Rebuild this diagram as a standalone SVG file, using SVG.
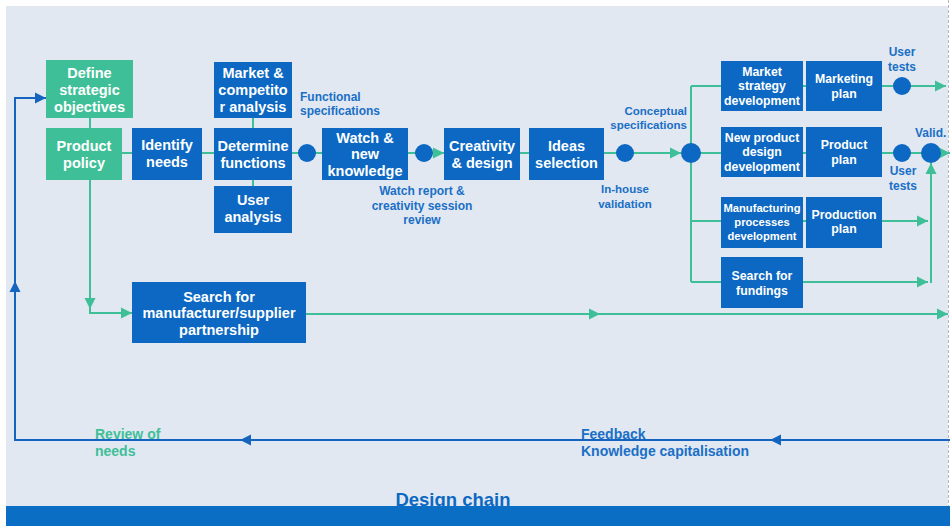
<svg xmlns="http://www.w3.org/2000/svg" width="950" height="526" viewBox="0 0 950 526">
<style>
.bx{fill:#0c68c2}
.tl{fill:#3fbf98}
.t{font-family:"Liberation Sans",Arial,sans-serif;font-weight:bold;fill:#fff;text-anchor:middle}
.m{font-size:14.5px}
.s{font-size:12.3px}
.xs{font-size:11.2px}
.lb{font-family:"Liberation Sans",Arial,sans-serif;font-weight:bold;fill:#1a6fc6;font-size:11.5px}
.l2{font-size:12px}
.fb{font-size:14px}
.dc{font-size:18.5px;fill:#0c68c2}
.gr{fill:#3fbf98}
.c{stroke:#3fbf98;stroke-width:2;fill:none}
.cb{stroke:#1565c0;stroke-width:2;fill:none}
.dot{fill:#0c68c2}
</style>
<defs>
<marker id="ta" viewBox="0 0 10 10" refX="10" refY="5" markerWidth="11" markerHeight="12" markerUnits="userSpaceOnUse" orient="auto"><path d="M0,0 L10,5 L0,10z" fill="#3fbf98"/></marker>
<marker id="ba" viewBox="0 0 10 10" refX="10" refY="5" markerWidth="11" markerHeight="12" markerUnits="userSpaceOnUse" orient="auto"><path d="M0,0 L10,5 L0,10z" fill="#1565c0"/></marker>
</defs>
<rect x="0" y="0" width="950" height="526" fill="#ffffff"/>
<rect x="6" y="6" width="942" height="520" fill="#e1e8f1"/>
<line x1="948.5" y1="0" x2="948.5" y2="506" stroke="#b5b9bf" stroke-width="1" stroke-dasharray="3,2"/>

<g id="connectors">
<line class="c" x1="90" y1="118" x2="90" y2="128"/>
<line class="c" x1="122" y1="153" x2="132" y2="153"/>
<line class="c" x1="202" y1="153" x2="214" y2="153"/>
<line class="c" x1="253" y1="118" x2="253" y2="128"/>
<line class="c" x1="253" y1="180" x2="253" y2="186"/>
<line class="c" x1="292" y1="153" x2="322" y2="153"/>
<line class="c" x1="408" y1="153" x2="444" y2="153" marker-end="url(#ta)"/>
<line class="c" x1="520" y1="153" x2="529" y2="153"/>
<line class="c" x1="604" y1="153" x2="681" y2="153" marker-end="url(#ta)"/>
<line class="c" x1="691" y1="86" x2="691" y2="282"/>
<line class="c" x1="691" y1="86" x2="721" y2="86"/>
<line class="c" x1="691" y1="153" x2="721" y2="153"/>
<line class="c" x1="691" y1="221" x2="721" y2="221"/>
<line class="c" x1="691" y1="282" x2="721" y2="282"/>
<line class="c" x1="803" y1="86" x2="806" y2="86"/>
<line class="c" x1="803" y1="153" x2="806" y2="153"/>
<line class="c" x1="803" y1="221" x2="806" y2="221"/>
<line class="c" x1="882" y1="86" x2="946" y2="86" marker-end="url(#ta)"/>
<line class="c" x1="882" y1="153" x2="950" y2="153" marker-end="url(#ta)"/>
<line class="c" x1="882" y1="221" x2="928" y2="221" marker-end="url(#ta)"/>
<line class="c" x1="803" y1="282" x2="928" y2="282" marker-end="url(#ta)"/>
<line class="c" x1="931" y1="283" x2="931" y2="163" marker-end="url(#ta)"/>
<polyline class="c" points="90,180 90,313 132,313" marker-end="url(#ta)"/>
<path d="M84.5,298 L95.5,298 L90,309z" fill="#3fbf98"/>
<line class="c" x1="306" y1="314" x2="600" y2="314" marker-end="url(#ta)"/>
<line class="c" x1="596" y1="314" x2="948" y2="314" marker-end="url(#ta)"/>
<line class="cb" x1="950" y1="440" x2="770" y2="440" marker-end="url(#ba)"/>
<line class="cb" x1="772" y1="440" x2="240" y2="440" marker-end="url(#ba)"/>
<polyline class="cb" points="242,440 15,440 15,281" marker-end="url(#ba)"/>
<polyline class="cb" points="15,283 15,98 46,98" marker-end="url(#ba)"/>
</g>

<g id="dots">
<circle class="dot" cx="307" cy="153" r="9"/>
<circle class="dot" cx="424" cy="153" r="9"/>
<circle class="dot" cx="625" cy="153" r="9"/>
<circle class="dot" cx="691" cy="153" r="10"/>
<circle class="dot" cx="902" cy="86" r="9"/>
<circle class="dot" cx="902" cy="153" r="9"/>
<circle class="dot" cx="931" cy="153" r="10"/>
</g>

<g id="n-define"><rect class="tl" x="46" y="60" width="87" height="58"/>
<text class="t m" x="89.5" y="78">Define</text><text class="t m" x="89.5" y="95">strategic</text><text class="t m" x="89.5" y="112">objectives</text></g>
<g id="n-policy"><rect class="tl" x="46" y="128" width="76" height="52"/>
<text class="t m" x="84" y="151">Product</text><text class="t m" x="84" y="168">policy</text></g>
<g id="n-identify"><rect class="bx" x="132" y="128" width="70" height="52"/>
<text class="t m" x="167" y="150">Identify</text><text class="t m" x="167" y="167">needs</text></g>
<g id="n-market"><rect class="bx" x="214" y="62" width="78" height="56"/>
<text class="t m" x="253" y="78">Market &amp;</text><text class="t m" x="253" y="95">competito</text><text class="t m" x="253" y="112">r analysis</text></g>
<g id="n-determine"><rect class="bx" x="214" y="128" width="78" height="52"/>
<text class="t m" x="253" y="151">Determine</text><text class="t m" x="253" y="168">functions</text></g>
<g id="n-user"><rect class="bx" x="214" y="186" width="78" height="47"/>
<text class="t m" x="253" y="205">User</text><text class="t m" x="253" y="222">analysis</text></g>
<g id="n-watch"><rect class="bx" x="322" y="128" width="86" height="52"/>
<text class="t m" x="365" y="143">Watch &amp;</text><text class="t m" x="365" y="159">new</text><text class="t m" x="365" y="176">knowledge</text></g>
<g id="n-creativity"><rect class="bx" x="444" y="128" width="76" height="52"/>
<text class="t m" x="482" y="151">Creativity</text><text class="t m" x="482" y="168">&amp; design</text></g>
<g id="n-ideas"><rect class="bx" x="529" y="128" width="75" height="52"/>
<text class="t m" x="566.5" y="151">Ideas</text><text class="t m" x="566.5" y="168">selection</text></g>
<g id="n-mktstrat"><rect class="bx" x="721" y="61" width="82" height="50"/>
<text class="t s" x="762" y="76">Market</text><text class="t s" x="762" y="90">strategy</text><text class="t s" x="762" y="105">development</text></g>
<g id="n-mktplan"><rect class="bx" x="806" y="61" width="76" height="50"/>
<text class="t s" x="844" y="83">Marketing</text><text class="t s" x="844" y="98">plan</text></g>
<g id="n-npd"><rect class="bx" x="721" y="127" width="82" height="50"/>
<text class="t s" x="762" y="142">New product</text><text class="t s" x="762" y="156">design</text><text class="t s" x="762" y="171">development</text></g>
<g id="n-prodplan"><rect class="bx" x="806" y="127" width="76" height="50"/>
<text class="t s" x="844" y="149">Product</text><text class="t s" x="844" y="164">plan</text></g>
<g id="n-mfg"><rect class="bx" x="721" y="197" width="82" height="51"/>
<text class="t xs" x="762" y="212">Manufacturing</text><text class="t xs" x="762" y="226">processes</text><text class="t xs" x="762" y="240">development</text></g>
<g id="n-prodn"><rect class="bx" x="806" y="197" width="76" height="51"/>
<text class="t s" x="844" y="219">Production</text><text class="t s" x="844" y="233">plan</text></g>
<g id="n-fund"><rect class="bx" x="721" y="257" width="82" height="51"/>
<text class="t s" x="762" y="280">Search for</text><text class="t s" x="762" y="295">fundings</text></g>
<g id="n-partner"><rect class="bx" x="132" y="282" width="174" height="61"/>
<text class="t m" x="219" y="302">Search for</text><text class="t m" x="219" y="318">manufacturer/supplier</text><text class="t m" x="219" y="335">partnership</text></g>

<g id="labels">
<text class="lb l2" x="300" y="101">Functional</text><text class="lb l2" x="300" y="115">specifications</text>
<text class="lb" x="687" y="115" text-anchor="end">Conceptual</text><text class="lb" x="687" y="129" text-anchor="end">specifications</text>
<text class="lb l2" x="422" y="195" text-anchor="middle">Watch report &amp;</text><text class="lb l2" x="422" y="210" text-anchor="middle">creativity session</text><text class="lb l2" x="422" y="224" text-anchor="middle">review</text>
<text class="lb" x="625" y="193" text-anchor="middle">In-house</text><text class="lb" x="625" y="208" text-anchor="middle">validation</text>
<text class="lb l2" x="902" y="56" text-anchor="middle">User</text><text class="lb l2" x="902" y="71" text-anchor="middle">tests</text>
<text class="lb l2" x="915" y="137">Valid.</text>
<text class="lb l2" x="903" y="175" text-anchor="middle">User</text><text class="lb l2" x="903" y="190" text-anchor="middle">tests</text>
<text class="lb fb gr" x="95" y="439">Review of</text><text class="lb fb gr" x="95" y="456">needs</text>
<text class="lb fb" x="581" y="439">Feedback</text><text class="lb fb" x="581" y="456">Knowledge capitalisation</text>
<text class="lb dc" x="453" y="506" text-anchor="middle">Design chain</text>
</g>
<rect x="6" y="506" width="944" height="20" fill="#0a6ec4"/>
</svg>
